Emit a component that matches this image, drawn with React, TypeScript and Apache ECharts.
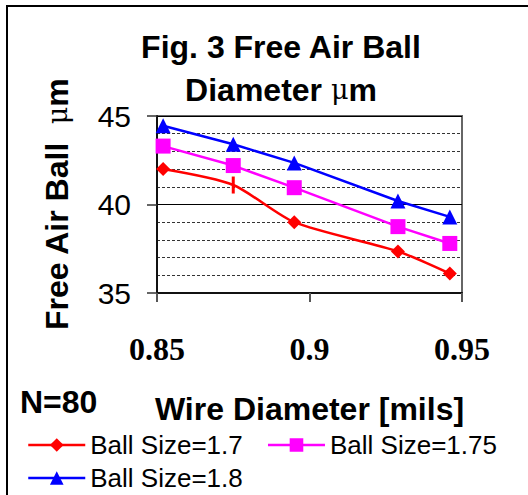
import React, { useEffect, useRef } from "react";
import * as echarts from "echarts";

const wireDiameters = [0.852, 0.875, 0.895, 0.929, 0.946];
const ball17 = [42.0, 41.1, 39.0, 37.35, 36.1];
const ball175 = [43.3, 42.2, 40.95, 38.75, 37.8];
const ball18 = [44.45, 43.4, 42.35, 40.2, 39.3];
const seriesNames = ["Ball Size=1.7", "Ball Size=1.75", "Ball Size=1.8"];

const SANS = "'Liberation Sans', Arial, sans-serif";
const SERIF = "'Liberation Serif', 'Times New Roman', serif";

export default function App() {
  const ref = useRef<HTMLDivElement>(null);
  useEffect(() => {
    document.body.style.margin = "0";
    const chart = echarts.init(ref.current!, null, { renderer: "svg" });
    const pair = (ys: number[]) => wireDiameters.map((x, i) => [x, ys[i]]);
    const redData: any[] = pair(ball17).map((d, i) =>
      i === 1 ? { value: d, symbol: "rect", symbolSize: [3, 17] } : d
    );
    const legendCommon = {
      left: 22,
      itemWidth: 57,
      itemHeight: 17,
      lineStyle: { width: 2.5 },
      textStyle: { fontFamily: SANS, fontSize: 26, color: "#000" },
    };
    chart.setOption({
      animation: false,
      backgroundColor: "#ffffff",
      title: {
        text: "{a|Fig. 3 Free Air Ball}\n{a|Diameter }{mu|μ}{a|m}",
        left: 276,
        top: 20,
        textAlign: "center",
        textStyle: {
          rich: {
            a: { fontFamily: SANS, fontSize: 32, fontWeight: "bold", color: "#000", lineHeight: 43 },
            mu: { fontFamily: "'DejaVu Serif', serif", fontSize: 27, fontWeight: "normal", color: "#000", lineHeight: 43 },
          },
        },
      },
      graphic: [
        {
          type: "rect",
          shape: { x: 7, y: 6, width: 540, height: 520 },
          style: { fill: "none", stroke: "#000", lineWidth: 2 },
          silent: true,
        },
        {
          type: "text",
          left: 20,
          top: 386,
          style: { text: "N=80", font: `bold 32px ${SANS}`, fill: "#000" },
        },
      ],
      legend: [
        { ...legendCommon, data: [seriesNames[0], seriesNames[1]], top: 427, itemGap: 24 },
        { ...legendCommon, data: [seriesNames[2]], top: 460 },
      ],
      grid: {
        left: 157,
        right: 66,
        top: 116,
        bottom: 202,
        show: true,
        borderColor: "#666",
        borderWidth: 2,
        containLabel: false,
      },
      xAxis: {
        type: "value",
        min: 0.85,
        max: 0.95,
        interval: 0.05,
        name: "Wire Diameter [mils]",
        nameLocation: "middle",
        nameGap: 100,
        nameTextStyle: { fontFamily: SANS, fontSize: 32, fontWeight: "bold", color: "#000" },
        axisLine: { show: true, lineStyle: { color: "#111", width: 2 } },
        axisTick: { show: true, length: 9, lineStyle: { color: "#555", width: 2 } },
        axisLabel: {
          margin: 40,
          fontFamily: SERIF,
          fontSize: 32,
          fontWeight: "bold",
          color: "#000",
          formatter: (v: number) => String(Number(v.toFixed(2))),
        },
        splitLine: { show: false },
      },
      yAxis: {
        type: "value",
        min: 35,
        max: 45,
        interval: 5,
        name: "Free Air Ball  {mu|μ}m",
        nameLocation: "middle",
        nameRotate: 90,
        nameGap: 84,
        nameTextStyle: {
          fontFamily: SANS,
          fontSize: 32,
          fontWeight: "bold",
          color: "#000",
          rich: {
            mu: { fontFamily: "'DejaVu Serif', serif", fontSize: 27, fontWeight: "normal", color: "#000" },
          },
        },
        axisLine: { show: true, lineStyle: { color: "#111", width: 2 } },
        axisTick: { show: true, length: 10, lineStyle: { color: "#333", width: 1.5 } },
        axisLabel: {
          margin: 26,
          fontFamily: SANS,
          fontSize: 30,
          color: "#000",
          padding: [8, 0, 0, 0],
        },
        splitLine: { show: true, lineStyle: { color: "#000", width: 1 } },
        minorTick: { show: false, splitNumber: 5 },
        minorSplitLine: { show: true, lineStyle: { color: "#333", width: 1, type: [3, 2] } },
      },
      series: [
        {
          name: seriesNames[0],
          type: "line",
          data: redData,
          smooth: 0.25,
          symbol: "diamond",
          symbolSize: 14,
          lineStyle: { color: "#ff0000", width: 2.5 },
          itemStyle: { color: "#ff0000" },
          z: 3,
        },
        {
          name: seriesNames[1],
          type: "line",
          data: pair(ball175),
          symbol: "rect",
          symbolSize: 15,
          lineStyle: { color: "#ff00ff", width: 2.5 },
          itemStyle: { color: "#ff00ff" },
          z: 4,
        },
        {
          name: seriesNames[2],
          type: "line",
          data: pair(ball18),
          symbol: "triangle",
          symbolSize: 15,
          lineStyle: { color: "#0000ff", width: 2.5 },
          itemStyle: { color: "#0000ff" },
          z: 5,
        },
      ],
    });
    return () => chart.dispose();
  }, []);
  return <div ref={ref} style={{ width: 528, height: 495 }} />;
}
